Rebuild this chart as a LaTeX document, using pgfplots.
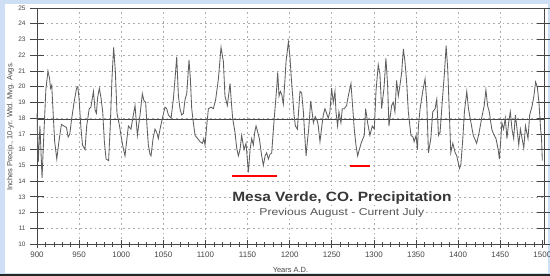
\documentclass[border=0pt]{standalone}
\usepackage{fontspec}
\setmainfont{Liberation Sans}
\usepackage{pgfplots}
\pgfplotsset{compat=1.18}
\definecolor{bgblue}{RGB}{205,222,245}
\definecolor{serieslc}{RGB}{95,95,95}
\definecolor{axisc}{RGB}{70,70,70}
\definecolor{gridc}{RGB}{172,172,172}
\definecolor{titlec}{RGB}{55,55,55}
\pgfplotstableread{
yr val
900 18.3
901.5 15.2
903.5 17.5
906 14.2
908 16.8
910.5 19.8
913 21.0
915 20.5
916 19.9
917.5 20.1
919 18.5
921 16.5
923.5 15.4
926 16.5
929 17.6
932 17.5
935 17.4
937 16.8
939 17.0
941 17.9
944 19.0
947 19.9
948.5 20.0
950 19.2
952 17.5
954 16.3
957 16.0
959 17.5
962 18.6
964 18.7
967 19.7
969 18.5
970.5 18.3
972 19.3
974 19.9
976 19.3
978 18.4
980 16.5
982 15.4
985 15.3
987 17.5
989 20.5
991 22.5
993 21.0
995 18.3
998 17.5
1000 16.8
1002 16.2
1004.5 15.6
1008.5 17.5
1011.6 17.3
1014.4 18.2
1016.4 18.8
1019.2 16.9
1022.3 18.2
1025.1 19.55
1027 19.1
1029 19.0
1030.6 17.5
1032.2 16.3
1034.2 15.7
1035.4 15.6
1037.8 16.7
1040.1 17.3
1042.1 17.1
1044.1 16.7
1046.1 17.3
1048.9 18.0
1052 18.7
1054 18.6
1056 18.2
1059.2 18.0
1061.9 19.2
1063.9 20.5
1065.9 21.9
1067.9 19.4
1069.8 18.6
1071.8 18.2
1073.8 18.3
1075.8 19.2
1077.8 19.55
1079 20.5
1080.5 21.7
1082.1 20.5
1083.7 18.6
1085.7 17.7
1087.7 16.9
1090.8 16.7
1093.6 16.5
1096.4 16.4
1098 16.7
1099.5 16.3
1101.5 17.5
1103.5 18.6
1106.7 18.7
1109.4 18.6
1112.2 19.2
1115.4 20.5
1118.5 22.5
1121.3 21.6
1123.2 19.4
1126 18.8
1129.2 20.2
1130.8 19.0
1132.3 18.0
1135.1 17.1
1137.1 16.1
1139.1 15.6
1141.1 16.0
1143 16.9
1145.8 16.0
1148.2 16.4
1151 14.55
1153 16.0
1154.9 16.7
1156.9 16.3
1158.5 17.1
1160.1 17.5
1162.1 17.1
1164 16.7
1166.8 15.6
1168.8 15.0
1170.8 15.6
1172.7 15.8
1174.7 15.4
1176.7 15.7
1178.7 15.8
1180.7 17.3
1182.6 18.6
1184.6 19.9
1185.8 20.9
1187.4 19.4
1189 19.7
1190.6 19.5
1192.5 18.9
1194.5 20.5
1195.7 21.6
1198.5 22.85
1200.5 21.8
1202 20.5
1203.6 19.4
1205.2 18.2
1206.8 17.5
1209.2 17.3
1210.8 18.6
1212.3 19.7
1214.3 19.6
1216.3 18.4
1217.9 16.9
1219.5 15.6
1221 16.5
1222.6 17.3
1225 19.1
1226.6 18.4
1228.2 17.7
1230.3 18.1
1233 17.8
1234 17.5
1236 16.5
1238 17.4
1239.9 18.2
1241.9 18.6
1243.9 18.3
1245.8 18.0
1247.8 18.4
1249.8 19.9
1251.8 19.0
1253.8 19.7
1255 18.4
1256.9 17.5
1258.5 18.4
1260.9 17.7
1262.5 18.6
1264.8 18.6
1267.6 18.8
1269.6 19.4
1272.8 20.2
1274.7 18.8
1276.7 17.3
1278.7 16.3
1280.7 15.6
1282.7 16.0
1285.4 16.5
1288.6 16.9
1290.2 18.6
1292.6 17.7
1295.3 16.9
1298.1 17.5
1300.5 17.3
1302.5 19.7
1305.2 21.4
1307.2 20.8
1309.2 18.6
1312 19.9
1314.3 21.8
1316.3 20.1
1317.9 17.5
1321.1 18.8
1323.1 19.0
1325 18.4
1327 20.4
1329 19.4
1331 20.1
1333 20.9
1335 22.4
1336.9 21.6
1338.9 20.3
1340.9 18.4
1344 16.9
1346.5 16.8
1347.8 16.5
1350.1 16.9
1351.7 16.0
1352.9 17.5
1354.9 18.6
1358 19.7
1360.8 20.5
1362.8 19.0
1364.8 15.8
1367.6 16.7
1369.9 18.4
1372.7 18.6
1374.7 19.2
1376.7 16.9
1378.6 17.1
1381.4 19.2
1383.8 20.9
1385.8 22.6
1387.7 21.1
1389.7 18.2
1391.3 15.8
1393.7 16.4
1396.5 15.8
1398.4 15.6
1401.6 14.8
1403.2 15.0
1405.6 16.7
1407.5 18.4
1410.3 19.7
1412.3 18.6
1414.3 18.0
1418 16.9
1422 16.4
1425 17.1
1428 18.0
1431 18.8
1433 19.8
1435 18.8
1437 18.4
1440 17.3
1442 17.0
1445 16.7
1447.6 16.0
1449 15.4
1450.5 16.5
1452 17.7
1454 17.3
1456 18.0
1458 16.7
1460 17.7
1462 18.4
1464 17.3
1466 16.7
1468 18.2
1470 17.3
1472 16.3
1474 17.3
1476 16.7
1478 16.1
1480 17.5
1483 16.7
1485 18.2
1488 18.8
1490 19.4
1492 20.3
1494 20.0
1496 19.0
1498 17.3
1499 16.8
1500 15.3
}\precip
\begin{document}
\begin{tikzpicture}
\fill[bgblue] (-37bp,-32bp) rectangle (513bp,244bp);
\fill[white] (-32bp,-29bp) rectangle (511bp,240bp);
\fill[black!85] (-37bp,-32bp) rectangle (513bp,-29.5bp);
% main axis: data, grid, y ticks
\begin{axis}[
  at={(0,0)}, anchor=south west,
  scale only axis, width=507bp, height=236bp,
  xmin=900, xmax=1502, ymin=10, ymax=25,
  axis line style={axisc, line width=0.7bp},
  xtick={950,1000,...,1450},
  xticklabels={},
  xtick style={draw=none},
  ytick={10,11,...,25},
  tick align=center,
  major tick length=14bp,
  ytick style={axisc, line width=0.6bp},
  grid=major,
  major grid style={gridc, line width=0.55bp, dash pattern=on 1.8bp off 3bp},
  /pgf/number format/assume math mode=true,
  yticklabel style={font=\fontsize{6.5}{7}\selectfont, text=axisc, anchor=east, xshift=-1bp},
  ylabel={Inches Precip., 10-yr. Wtd. Mvg. Avgs.},
  every axis y label/.style={at={(axis description cs:-0.0523,0.498)}, rotate=90, anchor=center, font=\fontsize{7.5}{8}\selectfont, text=axisc},
  clip=false,
]
\addplot[axisc, line width=0.8bp] coordinates {(900,17.95) (1502,17.95)};
\addplot[serieslc, line width=0.85bp] table[x=yr, y=val] {\precip};
\addplot[red, line width=1.8bp] coordinates {(1131.5,14.32) (1184.5,14.32)};
\addplot[red, line width=1.8bp] coordinates {(1271.7,14.95) (1295.5,14.95)};
\node[fill=white, inner sep=1.5bp, anchor=base, xscale=1.15, font=\fontsize{13.5}{15}\selectfont\bfseries, text=titlec] at (axis cs:1262,12.73) {Mesa Verde, CO. Precipitation};
\node[fill=white, inner sep=1.5bp, anchor=base, xscale=1.22, font=\fontsize{10}{12}\selectfont, text=titlec!85] at (axis cs:1262,11.8) {Previous August - Current July};
\end{axis}
% second axis: x ticks and labels
\begin{axis}[
  at={(0,0)}, anchor=south west,
  scale only axis, width=507bp, height=236bp,
  xmin=900, xmax=1502, ymin=10, ymax=25,
  hide y axis,
  axis x line*=bottom,
  axis line style={axisc, line width=0.7bp},
  xtick={900,950,...,1500},
  minor x tick num=4,
  tick align=center,
  major tick length=8bp,
  minor tick length=5bp,
  xtick style={axisc, line width=0.6bp},
  /pgf/number format/assume math mode=true,
  xticklabel style={font=\fontsize{8}{9}\selectfont, text=axisc, /pgf/number format/1000 sep={}},
  xlabel={Years A.D.},
  every axis x label/.style={at={(axis description cs:0.5,-0.110)}, anchor=center, font=\fontsize{7.5}{8}\selectfont, text=axisc},
]
\addplot[draw=none] coordinates {(900,10) (1500,10)};
\end{axis}
\pgfresetboundingbox
\path (-37bp,-32bp) rectangle (513bp,244bp);
\end{tikzpicture}
\end{document}
